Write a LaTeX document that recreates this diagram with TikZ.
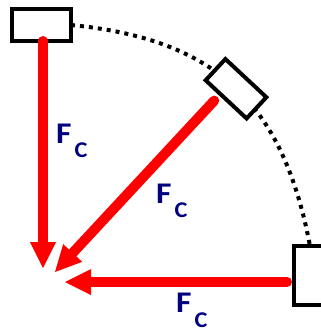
\documentclass[tikz,border=0pt]{standalone}
\usepackage{fontspec}
\setmainfont{Carlito}
\usetikzlibrary{arrows.meta,calc}
\definecolor{fcblue}{RGB}{0,0,128}
\newcommand\fclabel{\scalebox{1.12}[1]{F}\kern3pt\raisebox{-14.5pt}{\fontsize{22.5}{22.5}\selectfont\scalebox{1.08}[1]{C}}}
\pgfdeclarelayer{bg}
\pgfsetlayers{bg,main}
\begin{document}
\begin{tikzpicture}[x=1pt,y=-1pt,
  blk/.style={draw=black, line width=4pt, fill=white, minimum width=59pt, minimum height=32pt, inner sep=0pt, outer sep=0pt},
  force/.style={draw=red, line width=10pt, line cap=round, -{Triangle[length=26pt,width=26pt,line width=0pt]}},
  lbl/.style={text=fcblue, font=\bfseries\fontsize{30}{30}\selectfont, inner sep=0pt, anchor=base west},
  orbit/.style={draw=black, line width=4pt, dash pattern=on 4pt off 5pt}]
\useasboundingbox (0,0) rectangle (321,330);
\node[blk] (boxA) at (41.5,25) {};
\node[blk, rotate=-43, minimum width=56pt, minimum height=29pt] (boxB) at (236,88.75) {};
\node[blk, minimum width=32pt, minimum height=59pt] (boxC) at (310,275.5) {};
\begin{pgfonlayer}{bg}
\draw[orbit] (boxA.east) .. controls (216,39) and (283,103) .. (boxC.north);
\end{pgfonlayer}
\coordinate (tipA) at (43,268);
\coordinate (tipB) at (55,272);
\coordinate (tipC) at (65,282);
\coordinate (midB) at ($(boxB.south west)!0.36!(boxB.south east)$);
\coordinate (startB) at ($(midB)!9pt!(tipB)$);
\coordinate (startC) at ($(boxC.west)+(-7,6.5)$);
\draw[force] ([xshift=1.5pt]boxA.south) -- (tipA);
\draw[force] (startB) -- (tipB);
\draw[force] (startC) -- (tipC);
\node[lbl] (lA) at (56,143) {\fclabel};
\node[lbl] (lB) at (156,203) {\fclabel};
\node[lbl] (lC) at (176,312.5) {\fclabel};
\end{tikzpicture}
\end{document}
